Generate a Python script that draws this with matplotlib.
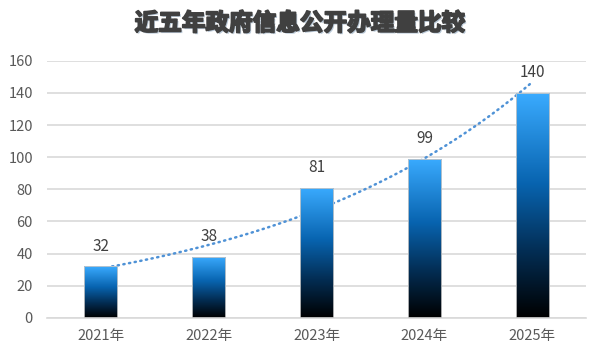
import numpy as np
import matplotlib
matplotlib.use("Agg")
import matplotlib.pyplot as plt
from matplotlib.colors import LinearSegmentedColormap
import matplotlib.patheffects as pe

plt.rcParams["font.family"] = ["Noto Sans CJK SC", "DejaVu Sans"]

years = ["2021年", "2022年", "2023年", "2024年", "2025年"]
counts = [32, 38, 81, 99, 140]
title = "近五年政府信息公开办理量比较"

# per-bar vertical gradient: black at the bottom, bright blue at the top
bar_cmap = LinearSegmentedColormap.from_list(
    "bar", [(0.0, "#000000"), (0.3, "#032e55"), (0.6, "#0864b0"), (1.0, "#3aabff")]
)

fig = plt.figure(figsize=(6, 3.6), dpi=100)
ax = fig.add_axes([0.078, 0.117, 0.899, 0.714])

x = np.arange(len(years))
width = 0.31
bars = ax.bar(x, counts, width=width, color="none", edgecolor="#c8c8c8",
              linewidth=0.6, zorder=3)

grad = np.linspace(0, 1, 256).reshape(-1, 1)
for b in bars:
    x0, y0 = b.get_x(), b.get_y()
    im = ax.imshow(grad, cmap=bar_cmap, origin="lower", aspect="auto",
                   extent=[x0, x0 + b.get_width(), y0, y0 + b.get_height()],
                   zorder=2.5)
    im.set_clip_path(b)

# exponential trend line (least squares on log values, like Excel)
k = np.arange(1, len(counts) + 1)
slope, icpt = np.polyfit(k, np.log(counts), 1)
xs = np.linspace(1, len(counts), 200)
ax.plot(xs - 1, np.exp(icpt + slope * xs), color="#4f92d6", linewidth=1.8,
        linestyle=(0, (0.5, 1.8)), dash_capstyle="round", zorder=2)

for xi, v in zip(x, counts):
    ax.text(xi, v + 12.5, str(v), ha="center", va="center", fontsize=11,
            color="#404040")

ax.set_xlim(-0.5, len(years) - 0.5)
ax.set_ylim(0, 160)
ax.set_yticks(range(0, 161, 20))
ax.set_xticks(x)
ax.set_xticklabels(years)
ax.tick_params(length=0, labelsize=10.5, labelcolor="#595959")
ax.tick_params(axis="x", pad=8)
ax.tick_params(axis="y", pad=10)
ax.grid(axis="y", color="#d9d9d9", linewidth=1.2, zorder=0)
ax.set_axisbelow(True)
for s in ["top", "right", "left"]:
    ax.spines[s].set_visible(False)
ax.spines["bottom"].set_color("#d9d9d9")
ax.spines["bottom"].set_linewidth(1.2)

fig.text(0.5, 0.935, title, ha="center", va="center", fontsize=17,
         fontweight="heavy", color="#404040",
         path_effects=[pe.withSimplePatchShadow(offset=(1.2, -1.2), shadow_rgbFace="#8fa8c0",
                                                alpha=0.6),
                       pe.Stroke(linewidth=1.3, foreground="#404040"),
                       pe.Normal()])

fig.savefig("out.png", dpi=100)
